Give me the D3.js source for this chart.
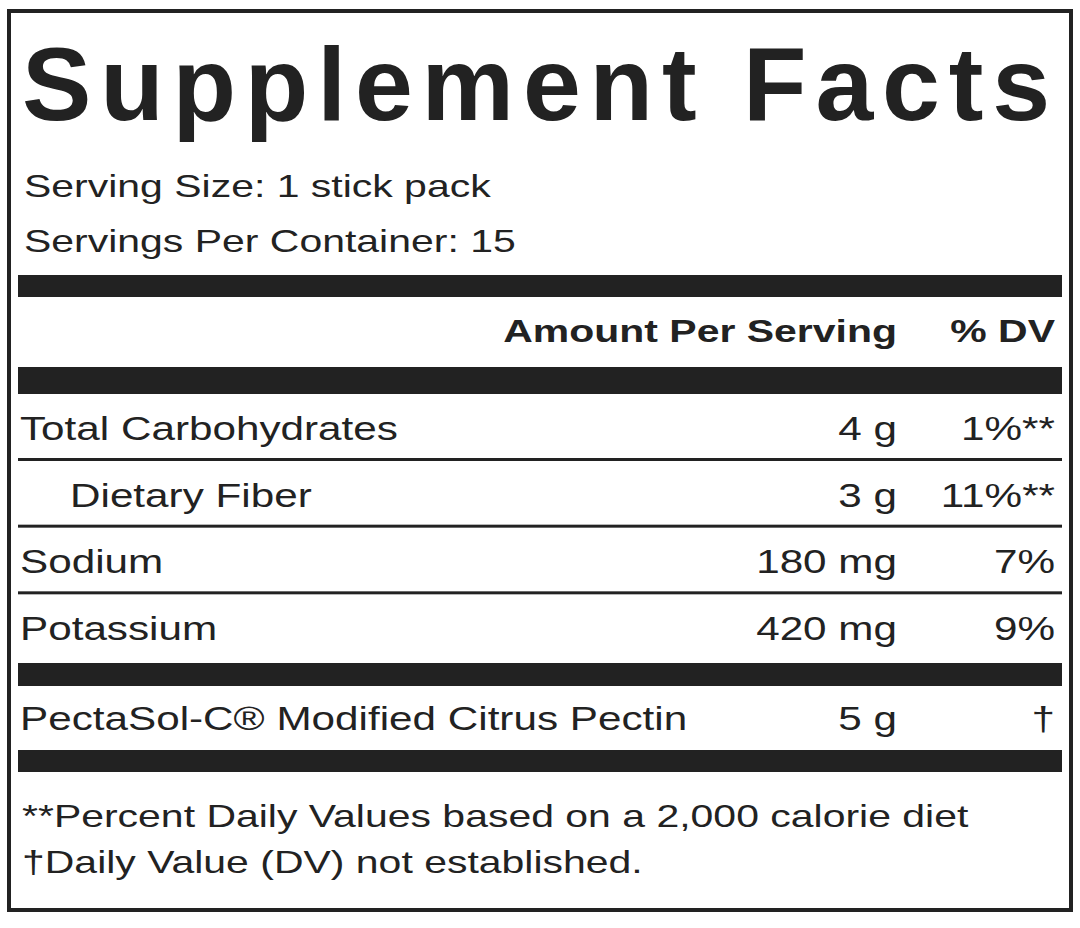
<!DOCTYPE html>
<html><head><meta charset="utf-8">
<script src="https://cdn.jsdelivr.net/npm/d3@7"></script>
<style>body{margin:0;background:#fff}</style>
</head><body><svg id="c" width="1080" height="928"></svg>
<script>
const title = "Supplement Facts";
const servingLines = ["Serving Size: 1 stick pack", "Servings Per Container: 15"];
const headers = ["Amount Per Serving", "% DV"];
const nutrients = ["Total Carbohydrates", "Dietary Fiber", "Sodium", "Potassium"];
const indent = [false, true, false, false];
const amounts = ["4 g", "3 g", "180 mg", "420 mg"];
const dvs = ["1%**", "11%**", "7%", "9%"];
const special = ["PectaSol-C® Modified Citrus Pectin", "5 g", "†"];
const footnotes = ["**Percent Daily Values based on a 2,000 calorie diet", "†Daily Value (DV) not established."];

const svg = d3.select("#c");
const F = "'Liberation Sans', Arial, Helvetica, sans-serif";
const L = 18, R = 1062, amtX = 897, dvX = 1055, SX = 1.28;
svg.append("rect").attr("x",9).attr("y",11).attr("width",1062).attr("height",899)
  .attr("fill","none").attr("stroke","#222").attr("stroke-width",4);
svg.append("text").attr("x",22).attr("y",120).attr("font-family",F).attr("font-weight","bold")
  .attr("font-size",104).attr("textLength",1028).attr("lengthAdjust","spacing").attr("fill","#222").text(title);
function txt(x,y,s,opts={}){
  svg.append("text").attr("transform",`translate(${x},${y}) scale(${SX},1)`)
    .attr("text-anchor",opts.anchor||"start").attr("font-family",F)
    .attr("font-weight",opts.bold?"bold":"normal").attr("font-size",opts.size||32)
    .attr("fill","#222").text(s);
}
const sy = d3.scalePoint().domain(servingLines).range([197,252]);
servingLines.forEach(s=>txt(24,sy(s),s));
function bar(y0,y1){svg.append("rect").attr("x",L).attr("y",y0).attr("width",R-L).attr("height",y1-y0).attr("fill","#222");}
function line(y){svg.append("rect").attr("x",L).attr("y",y).attr("width",R-L).attr("height",3).attr("fill","#222");}
bar(275,297);
txt(amtX,342,headers[0],{anchor:"end",bold:true});
txt(dvX,342,headers[1],{anchor:"end",bold:true});
bar(367,394);
const ry = d3.scalePoint().domain(nutrients).range([440,640]);
nutrients.forEach((n,i)=>{
  const y = ry(n);
  txt(indent[i]?70:20,y,n,{size:33});
  txt(amtX,y,amounts[i],{anchor:"end",size:33});
  txt(dvX,y,dvs[i],{anchor:"end",size:33});
  if(i<nutrients.length-1) line(y+18);
});
bar(663,686);
txt(20,730,special[0],{size:33});
txt(amtX,730,special[1],{anchor:"end",size:33});
txt(dvX,730,special[2],{anchor:"end",size:33});
bar(750,772);
const fy = d3.scalePoint().domain(footnotes).range([827,873]);
footnotes.forEach(f=>txt(22,fy(f),f));
</script></body></html>
